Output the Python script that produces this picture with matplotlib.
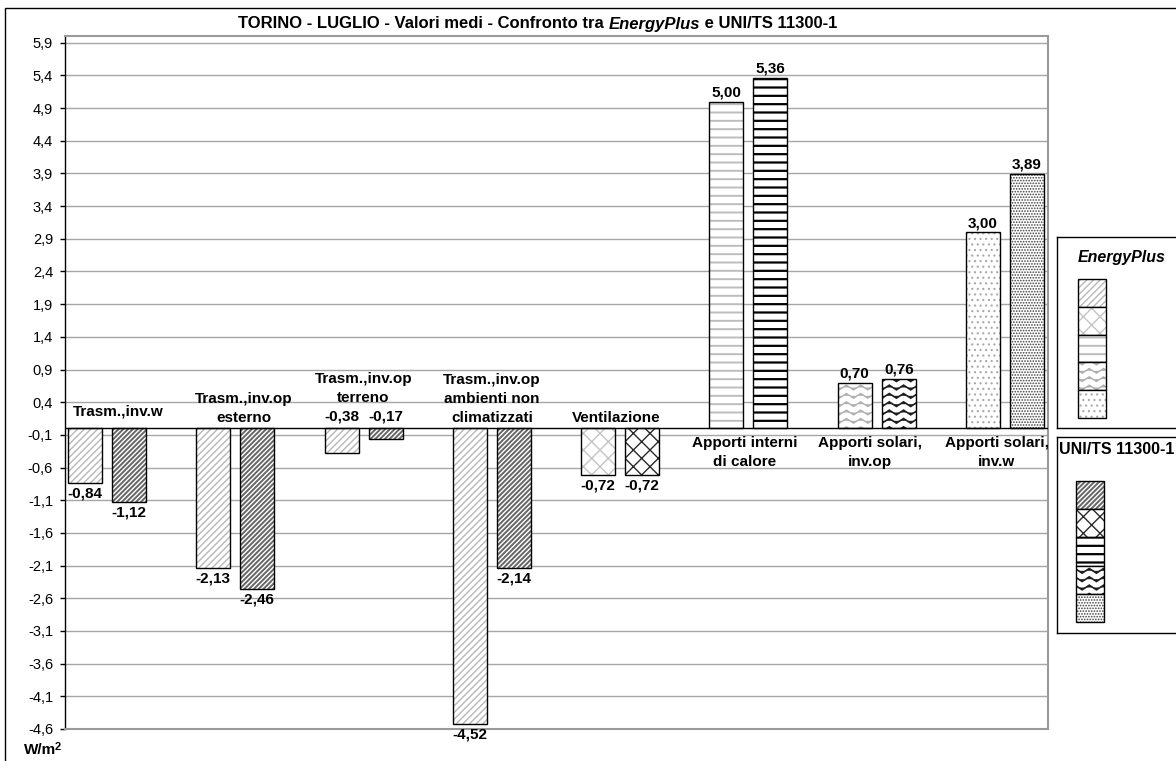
import warnings
import numpy as np
import matplotlib
matplotlib.use("Agg")
import matplotlib.pyplot as plt
from matplotlib import hatch as mhatch
from matplotlib.path import Path
from matplotlib.patches import Rectangle

warnings.filterwarnings("ignore")

plt.rcParams['font.family'] = ['Liberation Sans', 'DejaVu Sans']
plt.rcParams['hatch.linewidth'] = 1.0

# dati (W/m2)
categories = ["Trasm.,inv.w", "Trasm.,inv.op\nesterno", "Trasm.,inv.op\nterreno",
              "Trasm.,inv.op\nambienti non\nclimatizzati", "Ventilazione",
              "Apporti interni\ndi calore", "Apporti solari,\ninv.op",
              "Apporti solari,\ninv.w"]
energyplus = [-0.84, -2.13, -0.38, -4.52, -0.72, 5.00, 0.70, 3.00]
uni_ts = [-1.12, -2.46, -0.17, -2.14, -0.72, 5.36, 0.76, 3.89]
y_ticks = [-4.6, -4.1, -3.6, -3.1, -2.6, -2.1, -1.6, -1.1, -0.6, -0.1, 0.4,
           0.9, 1.4, 1.9, 2.4, 2.9, 3.4, 3.9, 4.4, 4.9, 5.4, 5.9]
series_names = ["EnergyPlus", "UNI/TS 11300-1"]

# tipo di retino per categoria
kind = ['diag', 'diag', 'diag', 'diag', 'cross', 'hline', 'wave', 'dots']
legend_order = ['diag', 'cross', 'hline', 'wave', 'dots']
# (hatch, colore, spessore) per EnergyPlus / UNI
styles = {
    'diag': (('/////', '#b8b8b8', 1.0), ('///////', '#666666', 1.4)),
    'cross': (('xx', '#c4c4c4', 1.0), ('xx', '#2a2a2a', 1.0)),
    'hline': (('--', '#bdbdbd', 1.4), ('--', '#000000', 1.6)),
    'wave': (('~~', '#b0b0b0', 1.0), ('~~', '#1e1e1e', 1.2)),
    'dots': (('...', '#a8a8a8', 0.8), ('......', '#404040', 0.8)),
}


# retino ondulato (non esiste in matplotlib)
class WaveHatch(mhatch.HatchPatternBase):
    npts = 29

    def __init__(self, hatch, density):
        self.num_lines = int(hatch.count('~') * density)
        self.num_vertices = self.num_lines * self.npts

    def set_vertices_and_codes(self, vertices, codes):
        xs = np.linspace(0.0, 1.0, self.npts)
        step = 1.0 / self.num_lines
        for k in range(self.num_lines):
            seg = slice(k * self.npts, (k + 1) * self.npts)
            vertices[seg, 0] = xs
            vertices[seg, 1] = (k + 0.5) * step + 0.28 * step * np.sin(2 * np.pi * 7 * xs)
            codes[seg] = Path.LINETO
            codes[k * self.npts] = Path.MOVETO


mhatch._hatch_types.append(WaveHatch)

W, H = 1176, 761


def fx(px):
    return px / W


def fy(py):
    return 1 - py / H


def fmt(v):
    return f"{v:.2f}".replace('.', ',')


fig = plt.figure(figsize=(W / 100, H / 100), dpi=100)
ax = fig.add_axes([fx(65), fy(729), fx(1048) - fx(65), fy(35.7) - fy(729)])

x = np.arange(len(categories))
bw = 0.265
off = 0.1715
fs = 11

for s, (vals, dx) in enumerate([(energyplus, -off), (uni_ts, off)]):
    hb = ax.bar(x + dx, vals, width=bw, color='white', linewidth=0, zorder=2)
    for i, p in enumerate(hb.patches):
        h, c, lw = styles[kind[i]][s]
        p.set_hatch(h)
        p.set_edgecolor(c)
        if hasattr(p, 'set_hatch_linewidth'):
            p.set_hatch_linewidth(lw)
    ax.bar(x + dx, vals, width=bw, fill=False, edgecolor='black', linewidth=1, zorder=3)

    for xi, v in zip(x + dx, vals):
        if v >= 0:
            ax.annotate(fmt(v), (xi, v), xytext=(0, 1.5), textcoords='offset points',
                        ha='center', va='bottom', fontsize=fs, fontweight='bold')
        elif v > -0.5:
            ax.annotate(fmt(v), (xi, 0), xytext=(0, 3.5), textcoords='offset points',
                        ha='center', va='bottom', fontsize=fs, fontweight='bold')
        else:
            ax.annotate(fmt(v), (xi, v), xytext=(0, -2.5), textcoords='offset points',
                        ha='center', va='top', fontsize=fs, fontweight='bold')

# etichette di categoria sopra / sotto l'asse
lift = [7, 2.5, 16.5, 2.5, 2.5, -5.5, -5.5, -5.5]
shift = [8, 6, 0, 0, -3, -3, -5, -6]
for xi, lab, d, sx in zip(x, categories, lift, shift):
    ax.annotate(lab, (xi, 0), xytext=(sx, d), textcoords='offset points',
                ha='center', va='bottom' if d > 0 else 'top',
                fontsize=fs, fontweight='bold', linespacing=1.45)

ax.axhline(0, color='black', linewidth=1, zorder=4)
ax.set_xlim(-0.327, 7.335)
ax.set_ylim(-4.6, 5.9 + 7 / 65.4)
ax.set_yticks(y_ticks)
ax.set_yticklabels([f"{t:.1f}".replace('.', ',') for t in y_ticks])
ax.yaxis.grid(True, color='#a6a6a6', linewidth=1)
ax.set_axisbelow(True)
ax.tick_params(axis='y', direction='out', length=3.6, width=1, pad=5, labelsize=10.5)
ax.tick_params(axis='x', bottom=False, labelbottom=False)
for name, sp in ax.spines.items():
    if name == 'left':
        sp.set_color('black')
        sp.set_linewidth(1)
    else:
        sp.set_color('#9a9a9a')
        sp.set_linewidth(1.5)

# cornice esterna
fig.add_artist(Rectangle((fx(5), -0.05), 1.2, fy(8) + 0.05, transform=fig.transFigure,
                         fill=False, edgecolor='black', linewidth=1))

# titolo in tre pezzi (EnergyPlus in corsivo)
t1 = fig.text(fx(238), fy(24), "TORINO - LUGLIO - Valori medi - Confronto tra ",
              fontsize=12, fontweight='bold', va='center', ha='left')
t2 = ax.annotate("EnergyPlus", xy=(1, 0.5), xycoords=t1, va='center', ha='left',
                 fontsize=12, fontweight='bold', fontstyle='italic', annotation_clip=False)
ax.annotate(" e UNI/TS 11300-1", xy=(1, 0.5), xycoords=t2, va='center', ha='left',
            fontsize=12, fontweight='bold', annotation_clip=False)

# unita di misura con apice
tu = fig.text(fx(24), fy(750), "W/m", fontsize=11, fontweight='bold', va='center', ha='left')
ax.annotate("2", xy=(1, 0.72), xycoords=tu, xytext=(-1.5, 0), textcoords='offset points',
            va='center', ha='left', fontsize=8, fontweight='bold', annotation_clip=False)


# legende a destra
def legend_box(top, bottom, title, italic, tx, ty, sx, sy0, sh, series):
    lax = fig.add_axes([fx(1057), fy(bottom), fx(1200) - fx(1057), fy(top) - fy(bottom)])
    lax.set_xlim(0, 1200 - 1057)
    lax.set_ylim(bottom - top, 0)
    lax.set_xticks([])
    lax.set_yticks([])
    for sp in lax.spines.values():
        sp.set_color('black')
        sp.set_linewidth(1)
    lax.text(tx, ty, title, ha='center', va='center', fontsize=11.5, fontweight='bold',
             fontstyle='italic' if italic else 'normal')
    for k, name in enumerate(legend_order):
        h, c, lw = styles[name][series]
        r = Rectangle((sx, sy0 + k * sh), 28, sh, facecolor='white', edgecolor=c,
                      hatch=h, linewidth=0)
        if hasattr(r, 'set_hatch_linewidth'):
            r.set_hatch_linewidth(lw)
        lax.add_patch(r)
        lax.add_patch(Rectangle((sx, sy0 + k * sh), 28, sh, fill=False,
                                edgecolor='black', linewidth=1))


legend_box(237, 428, series_names[0], True, 65, 20, 21, 42, 27.8, 0)
legend_box(437, 633, series_names[1], False, 60, 12, 19, 44, 28.2, 1)

fig.savefig("out.png", dpi=100)
